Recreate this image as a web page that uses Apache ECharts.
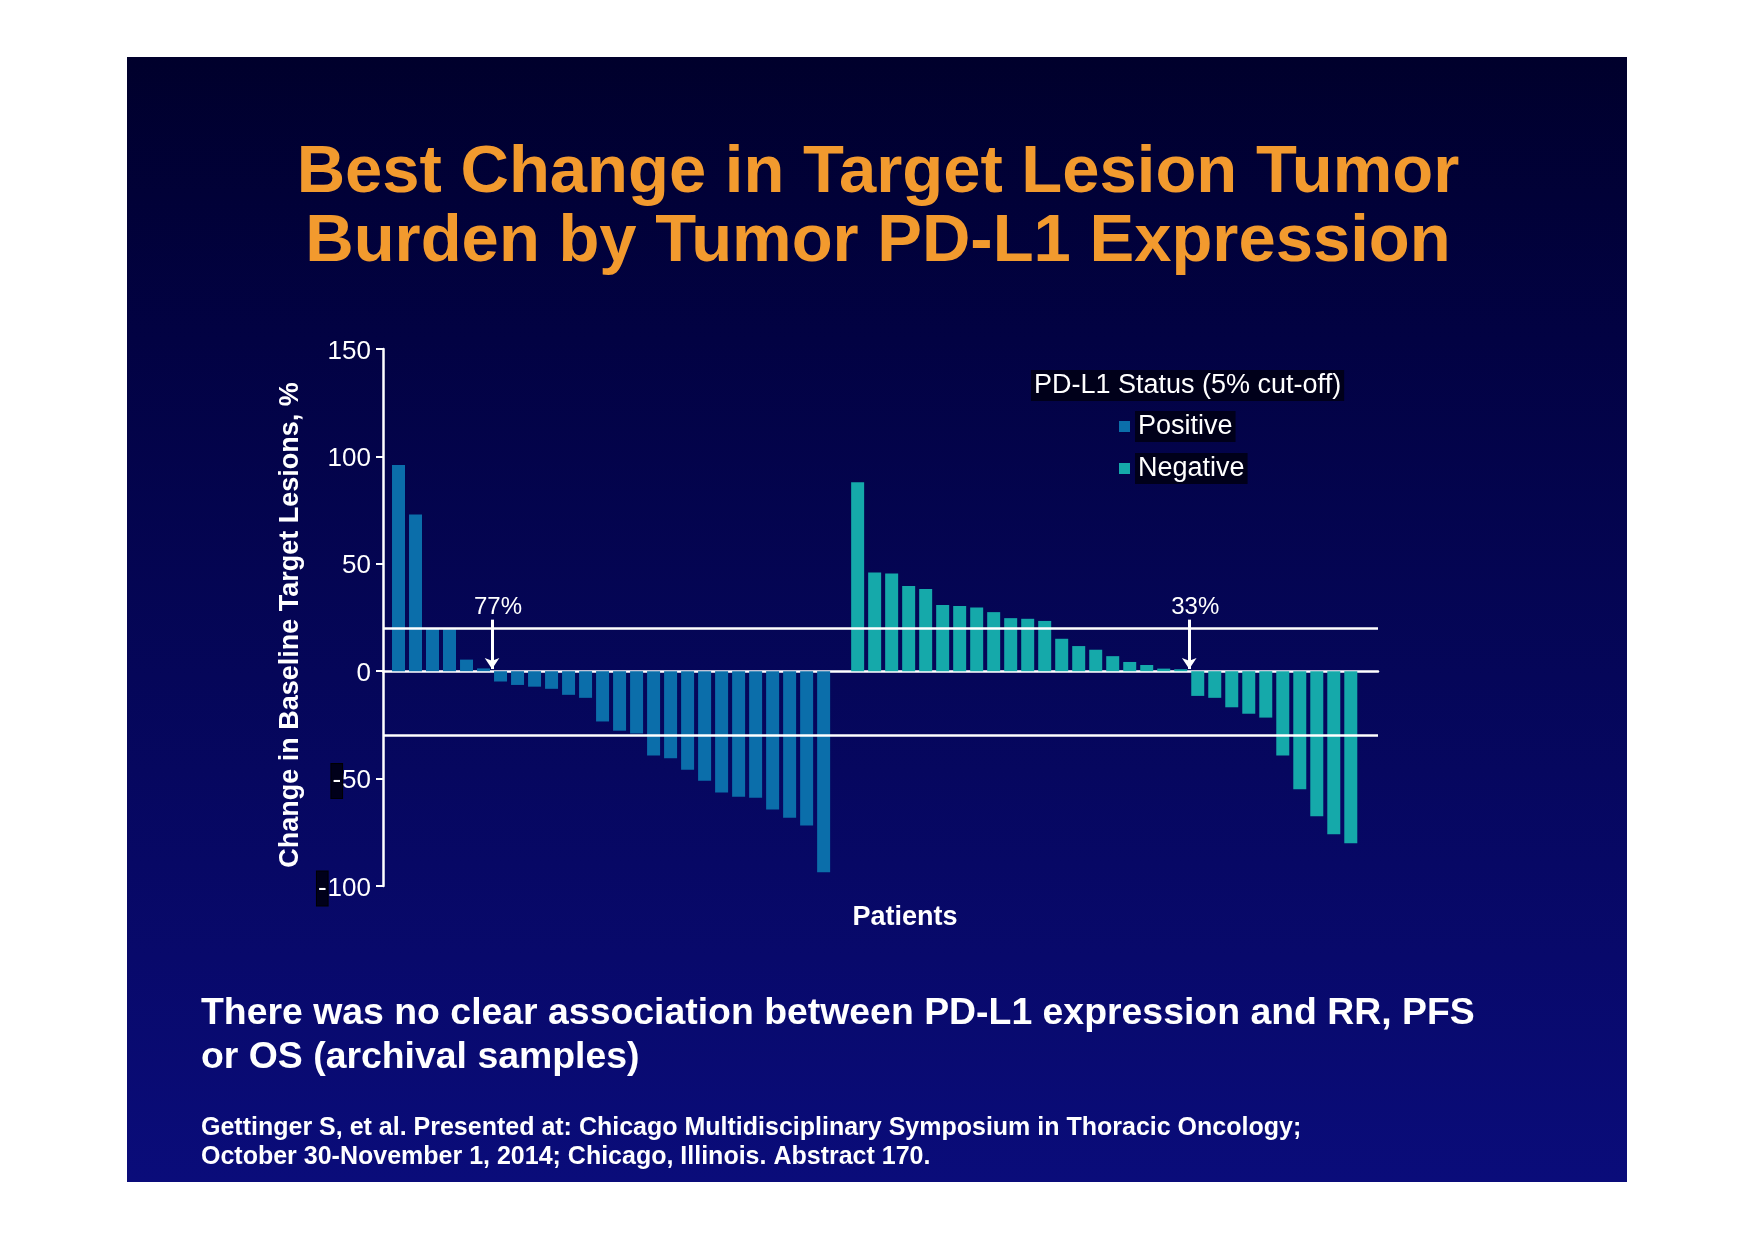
<!DOCTYPE html>
<html>
<head>
<meta charset="utf-8">
<script src="https://cdn.jsdelivr.net/npm/echarts@6/dist/echarts.min.js"></script>
<style>
html,body{margin:0;padding:0;background:#ffffff;}
#c{width:1755px;height:1241px;}
</style>
</head>
<body>
<div id="c"></div>
<script>
// ---- data ----
const titleLines = ['Best Change in Target Lesion Tumor', 'Burden by Tumor PD-L1 Expression'];
const yAxisTitle = 'Change in Baseline Target Lesions, %';
const xAxisTitle = 'Patients';
const legendTitle = 'PD-L1 Status (5% cut-off)';
const seriesNames = ['Positive', 'Negative'];
// PD-L1 positive patients (sorted waterfall)
const positiveValues = [96, 73, 20, 19.5, 5.4, 1.3, -4.8, -6.4, -7.2, -8.2, -11, -12.4, -23.4, -27.7, -29, -39.3, -40.5, -45.9, -51, -56.5, -58.4, -58.9, -64.4, -68.2, -71.8, -93.6];
// PD-L1 negative patients (sorted waterfall)
const negativeValues = [88, 46, 45.5, 39.7, 38.3, 30.8, 30.4, 29.6, 27.5, 24.7, 24.4, 23.4, 15.1, 11.7, 10, 7, 4.3, 2.9, 1.2, 0.9, -11.5, -12.4, -16.8, -19.8, -21.6, -39.3, -55, -67.5, -75.9, -80.1];
const positiveStart = 0;   // patient slot of first positive bar
const negativeStart = 27;  // one empty slot between the groups
const yTickValues = [-100, -50, 0, 50, 100, 150];
const referenceLines = [20, -30];
const arrowNotes = [
  {at: 5.5, label: '77%'},
  {at: 46.5, label: '33%'}
];
const arrowFrom = 24, arrowTo = 1;
const noteLines = ['There was no clear association between PD-L1 expression and RR, PFS', 'or OS (archival samples)'];
const citeLines = ['Gettinger S, et al. Presented at: Chicago Multidisciplinary Symposium in Thoracic Oncology;', 'October 30-November 1, 2014; Chicago, Illinois. Abstract 170.'];

// ---- styles ----
const FONT = '"Liberation Sans", Arial, Helvetica, sans-serif';
const BLUE = '#0B6EAA';
const TEAL = '#15A9AA';
const ORANGE = '#F29A2E';
const BOXBG = '#00001a';

const chart = echarts.init(document.getElementById('c'), null, {renderer: 'canvas'});

const option = {
  animation: false,
  backgroundColor: '#ffffff',
  textStyle: {fontFamily: FONT},
  graphic: [
    {
      type: 'rect', z: -100, silent: true,
      shape: {x: 127, y: 57, width: 1500, height: 1125},
      style: {
        fill: {
          type: 'linear', x: 0, y: 0, x2: 0, y2: 1,
          colorStops: [
            {offset: 0, color: '#00002C'},
            {offset: 0.25, color: '#020243'},
            {offset: 0.55, color: '#050659'},
            {offset: 0.8, color: '#08096B'},
            {offset: 1, color: '#0A0C7A'}
          ]
        }
      }
    },
    {
      type: 'text', x: 291, y: 625, rotation: Math.PI / 2, silent: true,
      style: {
        text: yAxisTitle, fill: '#ffffff',
        font: 'bold 27px ' + FONT,
        textAlign: 'center', textVerticalAlign: 'middle',
        align: 'center', verticalAlign: 'middle'
      }
    },
    {
      type: 'text', x: 905, y: 917.5, silent: true,
      style: {
        text: xAxisTitle, fill: '#ffffff',
        font: 'bold 27px ' + FONT,
        textAlign: 'center', textVerticalAlign: 'middle',
        align: 'center', verticalAlign: 'middle'
      }
    }
  ],
  title: [
    {
      text: titleLines.join('\n'),
      left: 878, top: 139, padding: 0, textAlign: 'center',
      textStyle: {color: ORANGE, fontSize: 67, fontWeight: 'bold', lineHeight: 69, fontFamily: FONT}
    },
    {
      text: legendTitle,
      left: 1031, top: 370, padding: [2, 3, 2, 3], backgroundColor: BOXBG,
      textStyle: {color: '#ffffff', fontSize: 27, fontWeight: 'normal', lineHeight: 27, fontFamily: FONT}
    },
    {
      text: noteLines.join('\n'),
      left: 201, top: 991, padding: 0,
      textStyle: {color: '#ffffff', fontSize: 37.4, fontWeight: 'bold', lineHeight: 44.5, fontFamily: FONT}
    },
    {
      text: citeLines.join('\n'),
      left: 201, top: 1113.5, padding: 0,
      textStyle: {color: '#ffffff', fontSize: 25, fontWeight: 'bold', lineHeight: 29, fontFamily: FONT}
    }
  ],
  legend: {
    data: seriesNames,
    orient: 'vertical', left: 1119, top: 411, padding: 0,
    itemGap: 11, itemWidth: 11, itemHeight: 11, icon: 'rect',
    selectedMode: false,
    textStyle: {color: '#ffffff', fontSize: 27, fontFamily: FONT, backgroundColor: BOXBG, padding: [2, 3, 2, 3], lineHeight: 27}
  },
  grid: {left: 383, top: 349, width: 995, height: 537},
  xAxis: {
    type: 'value', min: -0.912, max: 57.6,
    axisLine: {show: true, onZero: true, lineStyle: {color: '#ffffff', width: 2.5}},
    axisTick: {show: false}, axisLabel: {show: false}, splitLine: {show: false}
  },
  yAxis: {
    type: 'value',
    min: yTickValues[0], max: yTickValues[yTickValues.length - 1],
    interval: yTickValues[1] - yTickValues[0],
    axisLine: {show: true, onZero: false, lineStyle: {color: '#ffffff', width: 2.5}},
    axisTick: {show: true, length: 7, lineStyle: {color: '#ffffff', width: 2}},
    splitLine: {show: false},
    axisLabel: {
      color: '#ffffff', fontSize: 26, margin: 12, fontFamily: FONT,
      padding: [5, 0, 0, 0],
      formatter: v => v < 0 ? '{m|-}' + Math.abs(v) : String(v),
      rich: {
        m: {color: '#ffffff', fontSize: 26, fontFamily: FONT, backgroundColor: BOXBG, borderColor: '#000000', borderWidth: 1, padding: [4, 1, 4, 1]}
      }
    }
  },
  series: [
    {
      name: 'refs', type: 'line', z: 1, data: [[0, 0]], showSymbol: false, silent: true,
      lineStyle: {opacity: 0},
      markLine: {
        silent: true, symbol: 'none',
        lineStyle: {color: '#ffffff', width: 2.5, type: 'solid'},
        label: {show: false},
        data: referenceLines.map(v => ({yAxis: v}))
      }
    },
    {
      name: seriesNames[0], type: 'bar', z: 2,
      barWidth: 13, barGap: '-100%',
      itemStyle: {color: BLUE},
      data: positiveValues.map((v, i) => [positiveStart + i, v])
    },
    {
      name: seriesNames[1], type: 'bar', z: 2,
      barWidth: 13, barGap: '-100%',
      itemStyle: {color: TEAL},
      data: negativeValues.map((v, i) => [negativeStart + i, v])
    },
    {
      name: 'arrows', type: 'line', z: 5, data: [[0, 0]], showSymbol: false, silent: true,
      lineStyle: {opacity: 0},
      markLine: {
        silent: true,
        symbol: ['none', 'arrow'], symbolSize: 11,
        lineStyle: {color: '#ffffff', width: 3, type: 'solid'},
        label: {
          show: true, position: 'start', distance: 0,
          rich: {a: {color: '#ffffff', fontSize: 24, fontFamily: FONT, padding: [0, 0, 0, 12]}}
        },
        data: arrowNotes.map(a => [
          {coord: [a.at, arrowFrom], label: {formatter: '{a|' + a.label + '}'}},
          {coord: [a.at, arrowTo]}
        ])
      }
    }
  ]
};
chart.setOption(option);
</script>
</body>
</html>
